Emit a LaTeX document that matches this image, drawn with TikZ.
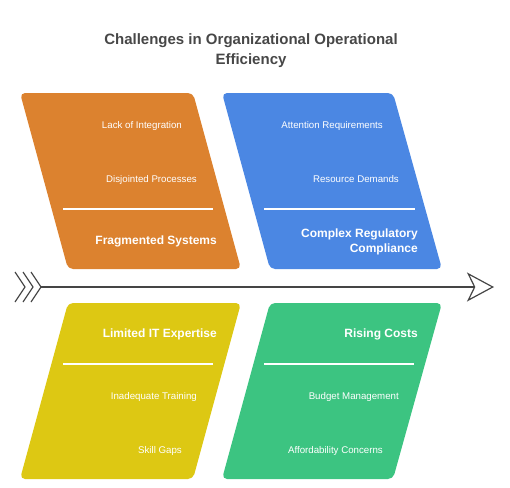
\documentclass[tikz,border=0pt]{standalone}
\usepackage{fontspec}
\setmainfont{Liberation Sans}
\usetikzlibrary{arrows.meta}
\definecolor{fragorange}{HTML}{DC822F}
\definecolor{complblue}{HTML}{4B87E3}
\definecolor{expyellow}{HTML}{DDC813}
\definecolor{costgreen}{HTML}{3CC481}
\definecolor{titlegray}{HTML}{474747}
\definecolor{spinegray}{HTML}{454545}
\begin{document}
\begin{tikzpicture}[x=1pt, y=-1pt,
    panel/.style={rounded corners=5pt},
    item/.style={text=white, anchor=east, inner sep=0pt, font=\fontsize{9.7}{11}\selectfont},
    cause/.style={text=white, anchor=east, align=right, inner sep=0pt, font=\bfseries\fontsize{12}{15}\selectfont},
    rule/.style={white, line width=1.5pt},
    spine/.style={spinegray, line width=1.2pt}]
    \useasboundingbox (0,0) rectangle (510,487);

    \node[font=\bfseries\fontsize{15}{20}\selectfont, text=titlegray, align=center] (title) at (251,51) {Challenges in Organizational Operational\\Efficiency};

    % panels
    \fill[fragorange, panel] (20,93) -- (193,93) -- (241,269) -- (68,269) -- cycle;
    \fill[complblue, panel] (222,93) -- (393,93) -- (442,269) -- (270,269) -- cycle;
    \fill[expyellow, panel] (68,303) -- (241,303) -- (193,479) -- (20,479) -- cycle;
    \fill[costgreen, panel] (270,303) -- (442,303) -- (393,479) -- (222,479) -- cycle;

    \draw[rule] (63,209) -- (213,209);
    \draw[rule] (264,209) -- (415,209);
    \draw[rule] (63,364) -- (213,364);
    \draw[rule] (264,364) -- (414,364);

    \node[item] (lack) at (182,125.5) {Lack of Integration};
    \node[item] (disj) at (197,179.5) {Disjointed Processes};
    \node[cause] (frag) at (217,241) {Fragmented Systems};

    \node[item] (attn) at (383,125.5) {Attention Requirements};
    \node[item] (res) at (399,179.5) {Resource Demands};
    \node[cause] (compl) at (418,242) {Complex Regulatory\\Compliance};

    \node[cause] (limit) at (217,334) {Limited IT Expertise};
    \node[item] (train) at (197,396.5) {Inadequate Training};
    \node[item] (skill) at (182,450.5) {Skill Gaps};

    \node[cause] (rise) at (418,334) {Rising Costs};
    \node[item] (budget) at (399,396.5) {Budget Management};
    \node[item] (afford) at (383,450.5) {Affordability Concerns};

    % spine
    \coordinate (tail) at (40,287);
    \coordinate (tip) at (494,287);
    \draw[spine, -{Stealth[open, length=27pt, width=29pt, inset=7pt]}] (tail) -- (tip);
    \foreach \dx in {0,8,16}
        \draw[spine] (tail) ++(-25+\dx,-15) -- ++(10,15) -- ++(-10,15);
\end{tikzpicture}
\end{document}
